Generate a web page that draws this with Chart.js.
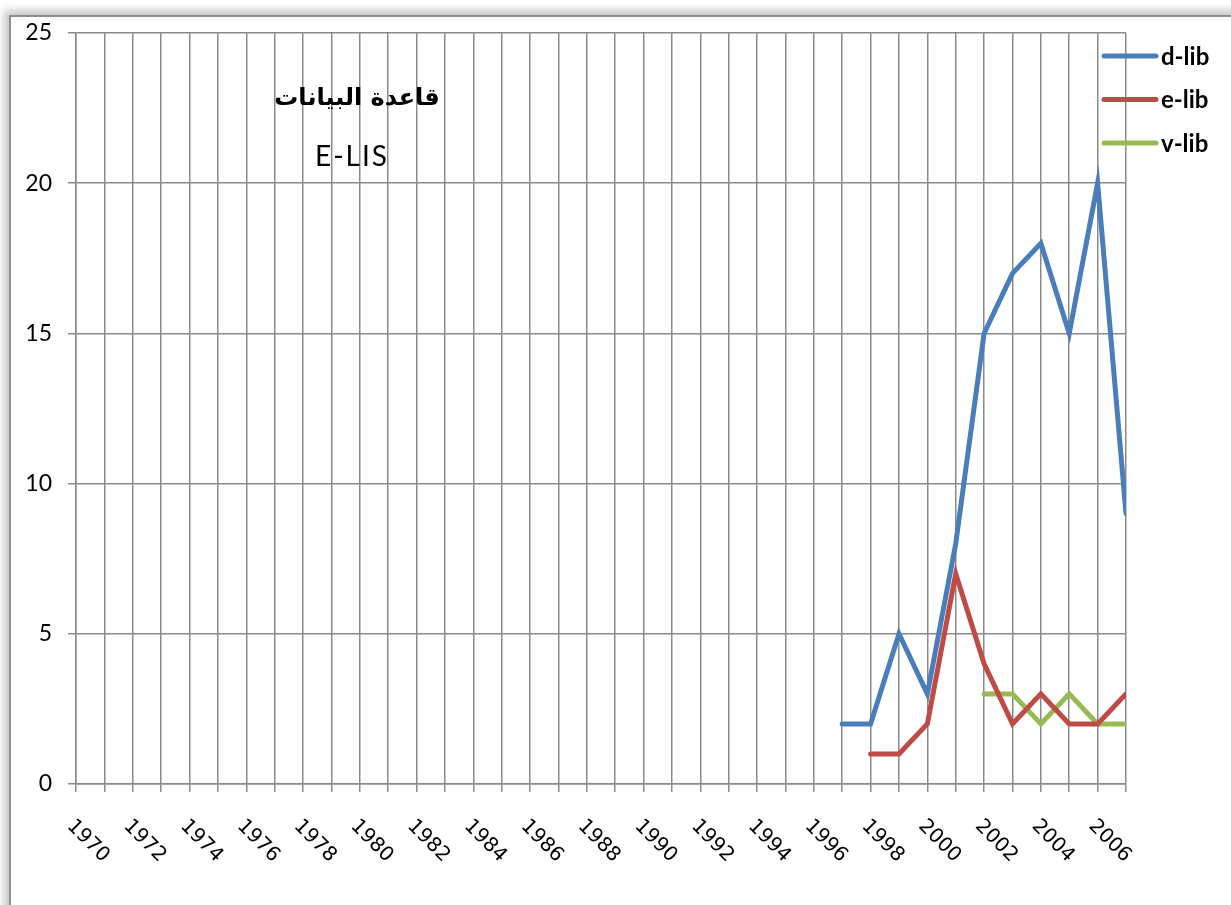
<!DOCTYPE html>
<html>
<head>
<meta charset="utf-8">
<title>E-LIS</title>
<script src="https://cdn.jsdelivr.net/npm/chart.js@4.4.1/dist/chart.umd.min.js"></script>
<style>
  html, body { margin: 0; padding: 0; background: #fff; overflow: hidden; }
  .frame {
    position: absolute; left: 9px; top: 15px; width: 1400px; height: 1100px;
    border-top: 2px solid #8e8e8e; border-left: 2px solid #8e8e8e;
    box-shadow: -3px -3px 8px 2px rgba(0, 0, 0, 0.22);
    background: #fff;
  }
  .wrap { position: absolute; left: 0; top: 0; width: 1231px; height: 905px; }
</style>
</head>
<body>
<div class="frame"></div>
<div class="wrap"><canvas id="chart"></canvas></div>
<script>
// Chart data
const years = [];
for (let y = 1970; y <= 2007; y++) years.push(String(y));

const dLibStart = 1997;
const dLibValues = [2, 2, 5, 3, 8, 15, 17, 18, 15, 20, 9];
const eLibStart = 1998;
const eLibValues = [1, 1, 2, 7, 4, 2, 3, 2, 2, 3];
const vLibStart = 2002;
const vLibValues = [3, 3, 2, 3, 2, 2];

const yTicks = [0, 5, 10, 15, 20, 25];

const titleAr = "قاعدة البيانات";
const titleEn = "E-LIS";

const gridColor = "#8a8a8a";

// Turn a start year + values into {x, y} points
function toPoints(start, values) {
  return values.map((v, i) => ({ x: String(start + i), y: v }));
}

// Title text inside the plot
const titlePlugin = {
  id: "titleText",
  afterDraw(chart) {
    const ctx = chart.ctx;
    ctx.save();
    ctx.fillStyle = "#000";
    ctx.textAlign = "center";
    ctx.textBaseline = "alphabetic";
    ctx.font = "bold 24px 'DejaVu Sans'";
    ctx.fillText(titleAr, 357, 105);
    ctx.font = "28px Lato";
    ctx.letterSpacing = "2px";
    ctx.fillText(titleEn, 352, 166);
    ctx.restore();
  },
};

// Legend drawn at top right, over the grid
const legendPlugin = {
  id: "cornerLegend",
  afterDraw(chart) {
    const ctx = chart.ctx;
    ctx.save();
    chart.data.datasets.forEach((ds, i) => {
      const y = 56 + i * 43.5;
      ctx.strokeStyle = ds.borderColor;
      ctx.lineWidth = 5;
      ctx.lineCap = "round";
      ctx.beginPath();
      ctx.moveTo(1104, y);
      ctx.lineTo(1156, y);
      ctx.stroke();
      ctx.fillStyle = "#000";
      ctx.font = "bold 24px Lato";
      ctx.textAlign = "left";
      ctx.textBaseline = "middle";
      ctx.fillText(ds.label, 1161, y + 1);
    });
    ctx.restore();
  },
};

// Year labels, rotated 45 degrees clockwise, every second year
const yearLabelPlugin = {
  id: "yearLabels",
  afterDraw(chart) {
    const ctx = chart.ctx;
    const scale = chart.scales.x;
    ctx.save();
    ctx.fillStyle = "#000";
    ctx.font = "20px 'DejaVu Sans'";
    ctx.textAlign = "left";
    ctx.textBaseline = "middle";
    years.forEach((label, i) => {
      if (Number(label) % 2 !== 0) return;
      const x = scale.getPixelForValue(i);
      ctx.save();
      ctx.translate(x - 6, scale.top + 39);
      ctx.rotate(Math.PI / 4);
      ctx.fillText(label, 0, 0);
      ctx.restore();
    });
    ctx.restore();
  },
};

const ctx = document.getElementById("chart").getContext("2d");
const chart = new Chart(ctx, {
  type: "line",
  data: {
    labels: years,
    datasets: [
      {
        label: "d-lib",
        data: toPoints(dLibStart, dLibValues),
        borderColor: "#4a7ebb",
      },
      {
        label: "e-lib",
        data: toPoints(eLibStart, eLibValues),
        borderColor: "#be4b48",
      },
      {
        label: "v-lib",
        data: toPoints(vLibStart, vLibValues),
        borderColor: "#98b954",
      },
    ].map((ds) => ({
      ...ds,
      borderWidth: 5,
      pointRadius: 0,
      tension: 0,
      fill: false,
      borderCapStyle: "round",
      clip: { left: 5, top: 5, right: 0, bottom: 5 },
    })),
  },
  options: {
    responsive: true,
    maintainAspectRatio: false,
    animation: false,
    layout: { padding: { left: 0, right: 105, top: 33, bottom: 0 } },
    plugins: {
      legend: { display: false },
      tooltip: { enabled: false },
    },
    scales: {
      x: {
        type: "category",
        offset: false,
        grid: {
          color: gridColor,
          lineWidth: 1.5,
          drawTicks: true,
          tickLength: 8,
        },
        border: { color: gridColor, width: 1.5 },
        ticks: { display: false, autoSkip: false },
        afterFit(scale) {
          scale.height = 121;
        },
      },
      y: {
        min: 0,
        max: 25,
        afterBuildTicks(scale) {
          scale.ticks = yTicks.map((v) => ({ value: v }));
        },
        grid: {
          color: gridColor,
          lineWidth: 1.5,
          drawTicks: true,
          tickLength: 8,
        },
        border: { color: gridColor, width: 1.5 },
        ticks: {
          color: "#000",
          font: { family: "Lato", size: 23 },
          padding: 16,
        },
        afterFit(scale) {
          scale.width = 76;
        },
      },
    },
  },
  plugins: [titlePlugin, legendPlugin, yearLabelPlugin],
});
</script>
</body>
</html>
